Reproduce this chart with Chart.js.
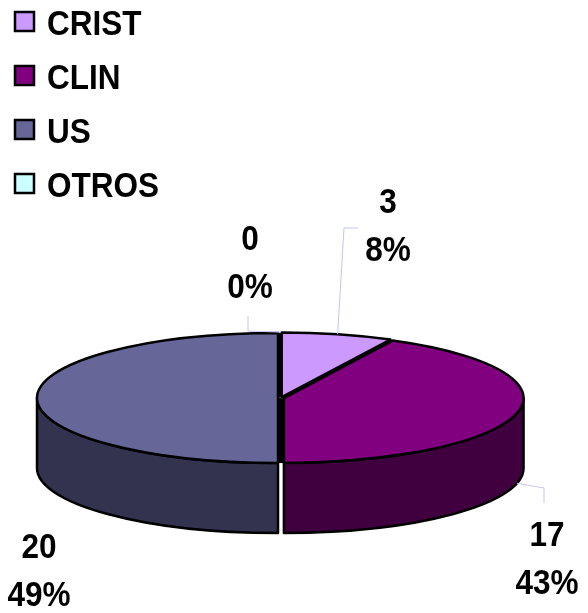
<!DOCTYPE html>
<html lang="es">
<head>
<meta charset="UTF-8">
<title>CRIST / CLIN / US / OTROS</title>
<script src="https://cdn.jsdelivr.net/npm/chart.js"></script>
<style>
  html, body { margin: 0; padding: 0; background: #fff; overflow: hidden; }
  #wrap { width: 588px; height: 613px; }
</style>
</head>
<body>
<div id="wrap"><canvas id="pieChart"></canvas></div>
<script>
const categories = ['CRIST', 'CLIN', 'US', 'OTROS'];
const counts = [3, 17, 20, 0];
const percentLabels = ['8%', '43%', '49%', '0%'];
const topColors = ['#cc99ff', '#800080', '#666699', '#ccffff'];
const sideColors = ['#664c80', '#400040', '#333350', '#668080'];

const FONT = 'bold 35px "Liberation Sans", Arial, sans-serif';
const TEXT_SQUEEZE = 0.9; // the original text is a bit narrow
const TILT = 0.27;   // squash of the top face
const DEPTH = 70;    // thickness of the pie
const OFFSET = 12;   // arc offset (chart.js shifts offset/4 px)

// where the data labels sit, and the bends of their leader lines
const labelLayout = [
    {x: 388, y: 200, leader: [[344, 228], [358, 228]], side: false},
    {x: 547, y: 533, leader: [[544, 488], [544, 503]], side: true},
    {x: 39, y: 545, leader: null},
    {x: 250, y: 237, leader: [[248, 331], [248, 316]], side: false}
];

// screen geometry of an arc once it is squashed
function arcGeom(arc) {
    const shift = (arc.options.offset || 0) / 4;
    const half = (arc.startAngle + arc.endAngle) / 2;
    const fix = 1 - Math.sin(Math.min(Math.PI, arc.circumference || 0));
    return {
        cx: arc.x + Math.cos(half) * shift,
        cy: arc.y + Math.sin(half) * shift * TILT,
        r: arc.outerRadius + shift * fix,
        start: arc.startAngle,
        end: arc.endAngle,
        circ: arc.circumference
    };
}

function rimPoint(g, a) {
    return [g.cx + g.r * Math.cos(a), g.cy + g.r * TILT * Math.sin(a)];
}

// parts of [a, b] that face the viewer (lower half of the ellipse)
function frontRanges(a, b) {
    const out = [];
    for (let n = -1; n <= 2; n++) {
        const lo = Math.max(a, n * 2 * Math.PI);
        const hi = Math.min(b, n * 2 * Math.PI + Math.PI);
        if (hi > lo) out.push([lo, hi]);
    }
    return out;
}

function squeezedText(ctx, str, x, y) {
    ctx.save();
    ctx.translate(x, y);
    ctx.scale(TEXT_SQUEEZE, 1);
    ctx.fillText(str, 0, 0);
    ctx.restore();
}

const pie3d = {
    id: 'pie3d',
    beforeDatasetsDraw(chart) {
        const ctx = chart.ctx;
        const arcs = chart.getDatasetMeta(0).data;
        ctx.save();
        ctx.lineWidth = 2.5;
        ctx.lineJoin = 'round';
        ctx.strokeStyle = '#000';
        arcs.forEach((arc, i) => {
            if (!arc.circumference) return;
            const g = arcGeom(arc);
            frontRanges(g.start, g.end).forEach(([lo, hi]) => {
                ctx.beginPath();
                ctx.ellipse(g.cx, g.cy, g.r, g.r * TILT, 0, lo, hi, false);
                ctx.ellipse(g.cx, g.cy + DEPTH, g.r, g.r * TILT, 0, hi, lo, true);
                ctx.closePath();
                ctx.fillStyle = sideColors[i];
                ctx.fill();
                ctx.stroke();
            });
        });
        ctx.restore();

        // squash the top faces that chart.js draws next
        const c = arcs[0];
        ctx.save();
        ctx.translate(c.x, c.y);
        ctx.scale(1, TILT);
        ctx.translate(-c.x, -c.y);
    },
    afterDatasetsDraw(chart) {
        const ctx = chart.ctx;
        ctx.restore();
        const shown = chart.getDatasetMeta(0).data.filter(a => a.circumference > 0).map(arcGeom);

        ctx.save();
        // dark gaps between the pulled-out slices
        ctx.fillStyle = '#000';
        shown.forEach((g, i) => {
            const h = shown[(i + 1) % shown.length];
            const p1 = rimPoint(g, g.end);
            const p2 = rimPoint(h, g.end);
            ctx.beginPath();
            ctx.moveTo(g.cx, g.cy);
            ctx.lineTo(p1[0], p1[1]);
            ctx.lineTo(p2[0], p2[1]);
            ctx.lineTo(h.cx, h.cy);
            ctx.closePath();
            ctx.fill();
        });
        // outlines of the top faces
        ctx.lineWidth = 2.5;
        ctx.lineJoin = 'round';
        ctx.strokeStyle = '#000';
        shown.forEach(g => {
            const p = rimPoint(g, g.start);
            ctx.beginPath();
            ctx.moveTo(g.cx, g.cy);
            ctx.lineTo(p[0], p[1]);
            ctx.ellipse(g.cx, g.cy, g.r, g.r * TILT, 0, g.start, g.end, false);
            ctx.closePath();
            ctx.stroke();
        });
        ctx.restore();
    },
    afterDraw(chart) {
        const ctx = chart.ctx;
        const arcs = chart.getDatasetMeta(0).data;
        ctx.save();

        // legend
        ctx.font = FONT;
        ctx.textAlign = 'left';
        ctx.textBaseline = 'alphabetic';
        categories.forEach((name, i) => {
            const y = 22 + i * 54;
            ctx.fillStyle = topColors[i];
            ctx.fillRect(15, y - 10, 19, 19);
            ctx.lineWidth = 2.5;
            ctx.strokeStyle = '#000';
            ctx.strokeRect(15, y - 10, 19, 19);
            ctx.fillStyle = '#000';
            squeezedText(ctx, name, 47, y + 12.5);
        });

        // data labels with leader lines
        arcs.forEach((arc, i) => {
            const l = labelLayout[i];
            if (l.leader) {
                const g = arcGeom(arc);
                const mid = (g.start + g.end) / 2;
                const p = rimPoint(g, mid);
                ctx.beginPath();
                ctx.moveTo(p[0], p[1] + (l.side ? DEPTH : 0));
                l.leader.forEach(q => ctx.lineTo(q[0], q[1]));
                ctx.lineWidth = 1;
                ctx.strokeStyle = '#c4c4f4';
                ctx.stroke();
            }
            ctx.fillStyle = '#000';
            ctx.textAlign = 'center';
            squeezedText(ctx, String(counts[i]), l.x, l.y + 12.5);
            squeezedText(ctx, percentLabels[i], l.x, l.y + 60.5);
        });
        ctx.restore();
    }
};

const ctx = document.getElementById('pieChart').getContext('2d');
const pieChart = new Chart(ctx, {
    type: 'pie',
    data: {
        labels: categories,
        datasets: [{
            data: counts,
            backgroundColor: topColors,
            borderWidth: 0,
            offset: OFFSET,
            clip: false
        }]
    },
    options: {
        responsive: true,
        maintainAspectRatio: false,
        animation: false,
        radius: 238,
        layout: { padding: { left: 0, right: 26, top: 183, bottom: 0 } },
        events: [],
        plugins: {
            legend: { display: false },
            tooltip: { enabled: false }
        }
    },
    plugins: [pie3d]
});
</script>
</body>
</html>
